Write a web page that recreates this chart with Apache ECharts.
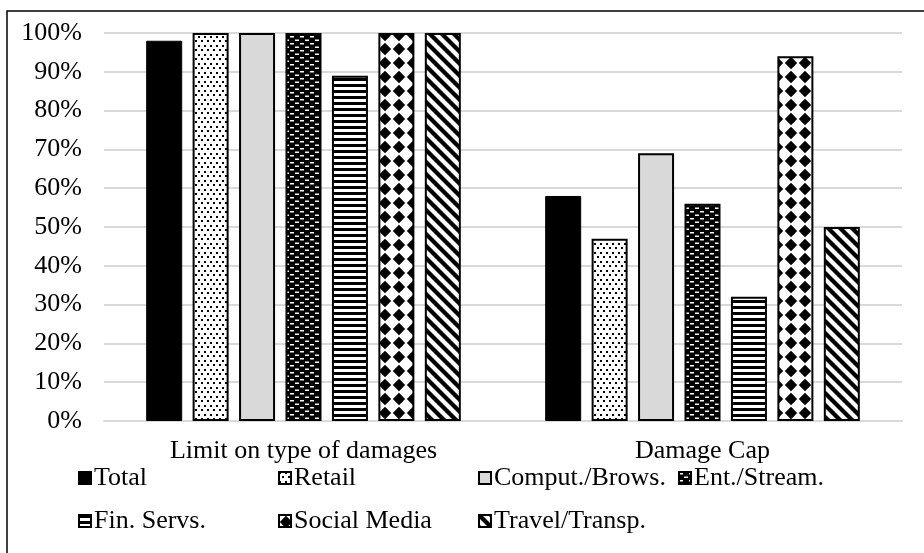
<!DOCTYPE html>
<html>
<head>
<meta charset="utf-8">
<script src="https://cdn.jsdelivr.net/npm/echarts@6/dist/echarts.min.js"></script>
<style>
  html, body { margin: 0; padding: 0; background: #fff; }
  #chart { width: 924px; height: 553px; }
</style>
</head>
<body>
<div id="chart"></div>
<script>
// Categories and per-sector shares (percent)
const categories = ['Limit on type of damages', 'Damage Cap'];
const seriesNames = ['Total', 'Retail', 'Comput./Brows.', 'Ent./Stream.', 'Fin. Servs.', 'Social Media', 'Travel/Transp.'];
const total = [98, 58];
const retail = [100, 47];
const computBrows = [100, 69];
const entStream = [100, 56];
const finServs = [89, 32];
const socialMedia = [100, 94];
const travelTransp = [100, 50];
const seriesValues = [total, retail, computBrows, entStream, finServs, socialMedia, travelTransp];

const FONT = '"Liberation Serif", "Times New Roman", serif';
const FONT_SIZE = 26;

// Small repeating canvas tiles used as monochrome hatch fills
function tile(w, h, draw) {
  const c = document.createElement('canvas');
  c.width = w; c.height = h;
  const g = c.getContext('2d');
  draw(g, w, h);
  return { image: c, repeat: 'repeat' };
}

const dots = tile(6, 9, (g, w, h) => {
  g.fillStyle = '#fff'; g.fillRect(0, 0, w, h);
  g.fillStyle = '#000';
  g.fillRect(0, 0, 2, 2);
  g.fillRect(3, 4, 2, 2);
});

const dashes = tile(10, 7, (g, w, h) => {
  g.fillStyle = '#000'; g.fillRect(0, 0, w, h);
  g.fillStyle = '#fff';
  g.fillRect(0, 1, 4, 1.5);
  g.fillRect(5, 4.5, 4, 1.5);
});

const hStripes = tile(6, 6, (g, w, h) => {
  g.fillStyle = '#fff'; g.fillRect(0, 0, w, h);
  g.fillStyle = '#000'; g.fillRect(0, 0, w, 3);
});

const diamonds = tile(14, 14, (g, w, h) => {
  g.fillStyle = '#fff'; g.fillRect(0, 0, w, h);
  g.fillStyle = '#000';
  g.beginPath();
  g.moveTo(7, 0.8); g.lineTo(13.2, 7); g.lineTo(7, 13.2); g.lineTo(0.8, 7);
  g.closePath(); g.fill();
});

const diagStripes = tile(12, 12, (g, w, h) => {
  g.fillStyle = '#fff'; g.fillRect(0, 0, w, h);
  g.strokeStyle = '#000'; g.lineWidth = 4.2;
  for (const o of [-12, 0, 12]) {
    g.beginPath(); g.moveTo(o - 2, -2); g.lineTo(o + 14, 14); g.stroke();
  }
});

const fills = ['#000', dots, '#d9d9d9', dashes, hStripes, diamonds, diagStripes];
const borderWidths = [1, 2, 2, 2, 2, 2, 2];

const legendCols = [78, 278, 478, 678];

const chart = echarts.init(document.getElementById('chart'), null, { renderer: 'canvas' });
chart.setOption({
  animation: false,
  backgroundColor: '#fff',
  textStyle: { fontFamily: FONT, color: '#000' },
  grid: { left: 104, right: 22, top: 33, bottom: 132, containLabel: false },
  graphic: [{
    type: 'rect',
    shape: { x: 7, y: 11, width: 1000, height: 1000 },
    style: { fill: null, stroke: '#000', lineWidth: 1.5 },
    silent: true
  }],
  legend: seriesNames.map((name, i) => ({
    data: [name],
    icon: 'rect',
    left: legendCols[i % 4],
    top: i < 4 ? 465 : 508,
    padding: 0,
    itemGap: 0,
    itemWidth: 12,
    itemHeight: 12,
    selectedMode: false,
    itemStyle: { borderColor: '#000', borderWidth: 2 },
    textStyle: { fontFamily: FONT, fontSize: FONT_SIZE, color: '#000', padding: [0, 0, 0, -2] }
  })),
  xAxis: {
    type: 'category',
    data: categories,
    axisTick: { show: false },
    axisLine: { lineStyle: { color: '#d9d9d9', width: 2 } },
    axisLabel: { fontFamily: FONT, fontSize: FONT_SIZE, color: '#000', margin: 17 }
  },
  yAxis: {
    type: 'value',
    min: 0, max: 100, interval: 10,
    axisLine: { show: false },
    axisTick: { show: false },
    splitLine: { lineStyle: { color: '#d9d9d9', width: 2 } },
    axisLabel: { fontFamily: FONT, fontSize: FONT_SIZE, color: '#000', margin: 22, formatter: '{value}%' }
  },
  series: seriesNames.map((name, i) => ({
    name,
    type: 'bar',
    data: seriesValues[i],
    barWidth: 36,
    barGap: '29%',
    itemStyle: { color: fills[i], borderColor: '#000', borderWidth: borderWidths[i] }
  }))
});
</script>
</body>
</html>
